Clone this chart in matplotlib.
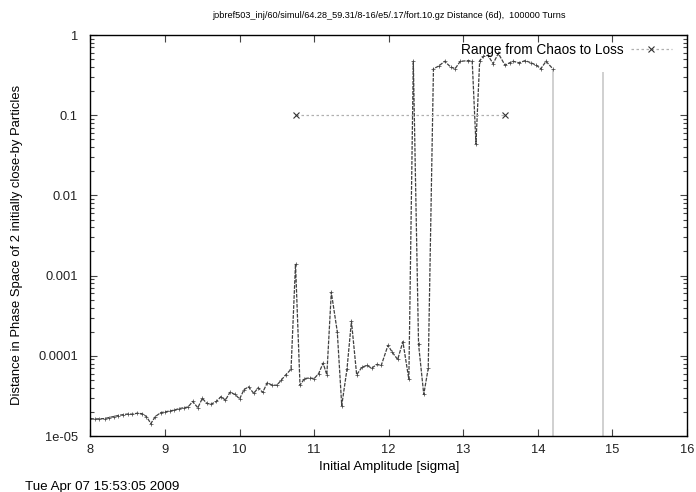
import matplotlib
matplotlib.use('Agg')
import matplotlib.pyplot as plt
from matplotlib.ticker import LogLocator, NullFormatter, FixedLocator

plt.rcParams['font.family'] = ['Liberation Sans', 'DejaVu Sans']

# distance between two initially close-by particles vs initial amplitude
amp = [8.00, 8.06, 8.12, 8.19, 8.25, 8.31, 8.37, 8.44, 8.50, 8.56,
       8.62, 8.69, 8.75, 8.81, 8.87, 8.94, 9.00, 9.06, 9.12, 9.19,
       9.25, 9.31, 9.37, 9.44, 9.50, 9.56, 9.62, 9.69, 9.75, 9.81,
       9.87, 9.94, 10.00, 10.06, 10.12, 10.19, 10.25, 10.31, 10.37, 10.44,
       10.50, 10.56, 10.62, 10.69, 10.75, 10.81, 10.87, 10.94, 11.00, 11.06,
       11.12, 11.17, 11.23, 11.31, 11.37, 11.44, 11.50, 11.57, 11.64, 11.71,
       11.77, 11.84, 11.90, 11.99, 12.05, 12.12, 12.19, 12.27, 12.33, 12.40,
       12.47, 12.53, 12.60, 12.67, 12.75, 12.83, 12.89, 12.96, 13.07, 13.12,
       13.17, 13.22, 13.27, 13.33, 13.40, 13.47, 13.56, 13.62, 13.67, 13.75,
       13.83, 13.91, 13.98, 14.04, 14.11, 14.20]
dist = [1.65e-5, 1.63e-5, 1.64e-5, 1.65e-5, 1.70e-5, 1.75e-5, 1.80e-5, 1.85e-5, 1.88e-5, 1.87e-5,
        1.92e-5, 1.90e-5, 1.75e-5, 1.43e-5, 1.75e-5, 1.95e-5, 2.00e-5, 2.05e-5, 2.10e-5, 2.20e-5,
        2.25e-5, 2.30e-5, 2.70e-5, 2.25e-5, 2.95e-5, 2.55e-5, 2.50e-5, 2.70e-5, 3.10e-5, 2.80e-5,
        3.50e-5, 3.30e-5, 2.90e-5, 3.80e-5, 4.10e-5, 3.40e-5, 4.00e-5, 3.50e-5, 4.60e-5, 4.30e-5,
        4.30e-5, 5.00e-5, 5.80e-5, 6.80e-5, 1.40e-3, 4.30e-5, 5.20e-5, 5.30e-5, 5.20e-5, 6.00e-5,
        8.10e-5, 5.80e-5, 6.20e-4, 2.00e-4, 2.40e-5, 6.80e-5, 2.70e-4, 5.80e-5, 7.20e-5, 7.60e-5,
        7.00e-5, 7.80e-5, 7.60e-5, 1.35e-4, 1.10e-4, 9.00e-5, 1.50e-4, 5.10e-5, 0.47, 1.40e-4,
        3.30e-5, 7.00e-5, 0.38, 0.41, 0.47, 0.40, 0.38, 0.47, 0.48, 0.47,
        0.044, 0.48, 0.54, 0.56, 0.44, 0.59, 0.42, 0.45, 0.47, 0.45,
        0.48, 0.45, 0.42, 0.38, 0.47, 0.38]

# particles lost: last distance before loss
loss_amp = [14.20, 14.87]
loss_dist = [0.38, 0.35]

# range from chaos to loss
range_amp = [10.75, 13.56]
range_val = [0.1, 0.1]

title = 'jobref503_inj/60/simul/64.28_59.31/8-16/e5/.17/fort.10.gz Distance (6d),  100000 Turns'

W, H = 696, 492
fig = plt.figure(figsize=(6.96, 4.92), dpi=100)
ax = fig.add_axes([0.1300, 0.1138, 0.857, 0.815])

ax.vlines(loss_amp, 1e-5, loss_dist, color='#c8c8c8', linewidth=1.2)
ax.plot(amp, dist, color='#404040', linestyle=(0, (3, 1)), linewidth=0.9,
        marker='+', markersize=2.2, markeredgewidth=0.5)
ax.plot(range_amp, range_val, color='#b0b0b0', linestyle=(0, (2, 2)), linewidth=0.9,
        marker='x', markersize=4, markeredgecolor='#333333', markeredgewidth=0.8,
        label='Range from Chaos to Loss')

ax.set_yscale('log')
ax.set_xlim(8, 16)
ax.set_ylim(1e-5, 1)
ax.xaxis.set_major_locator(FixedLocator(range(8, 17)))
ax.set_yticks([1e-5, 1e-4, 1e-3, 1e-2, 1e-1, 1])
ax.set_yticklabels(['1e-05', '0.0001', '0.001', '0.01', '0.1', '1'])
ax.yaxis.set_minor_locator(LogLocator(base=10, subs=[2, 3, 4, 5, 6, 7, 8, 9]))
ax.yaxis.set_minor_formatter(NullFormatter())
ax.tick_params(which='both', direction='in', top=True, right=True,
               labelsize=9.3, width=0.8, colors='#444444', labelcolor='#222222')
ax.tick_params(axis='y', pad=9)
ax.tick_params(axis='x', pad=6)
ax.tick_params(which='major', length=5)
ax.tick_params(which='minor', length=3)
for s in ax.spines.values():
    s.set_linewidth(1.0)

ax.set_title(title, fontsize=6.6, pad=12)

# axis labels placed like the gnuplot original
fig.text(389 / W, 1 - 467 / H, 'Initial Amplitude [sigma]', fontsize=9.6,
         ha='center', va='center')
fig.text(17 / W, 1 - 245 / H, 'Distance in Phase Space of 2 initially close-by Particles',
         fontsize=9.4, rotation=90, ha='center', va='center')

leg = ax.legend(loc='upper right', fontsize=9.8, frameon=False, handlelength=3.0,
                borderaxespad=0.2, markerfirst=False, handletextpad=0.5,
                bbox_to_anchor=(0.988, 1.0))

fig.text(25 / W, 1 - 487 / H, 'Tue Apr 07 15:53:05 2009', fontsize=9.6,
         ha='left', va='center')

fig.savefig('out.png', dpi=100)
